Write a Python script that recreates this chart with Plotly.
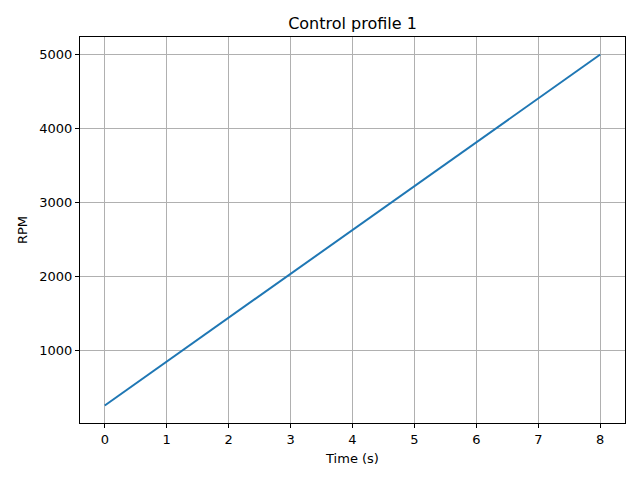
import plotly.graph_objects as go

# control profile: linear ramp of speed over time
time_s = [0, 8]
rpm = [250, 5000]

x_ticks = [0, 1, 2, 3, 4, 5, 6, 7, 8]
y_ticks = [1000, 2000, 3000, 4000, 5000]

fig = go.Figure()

fig.add_trace(go.Scatter(
    x=time_s, y=rpm,
    mode='lines',
    line=dict(color='#1f77b4', width=2),
    showlegend=False
))

axis_style = dict(
    showline=True, linecolor='black', linewidth=1, mirror=True,
    showgrid=True, gridcolor='#b0b0b0', gridwidth=1,
    zeroline=False,
    ticks='outside', ticklen=4, tickcolor='black', tickwidth=1,
    tickfont=dict(family='DejaVu Sans', size=13, color='black'),
)

# the page puts the figure 8px in from the top-left corner, margins allow for that
fig.update_layout(
    width=640, height=480,
    paper_bgcolor='white', plot_bgcolor='white',
    margin=dict(l=72, r=23, t=29, b=65),
    title=dict(text='Control profile 1', x=(72 + 617) / 2 / 640, xanchor='center',
               y=1 - 15 / 480, yanchor='middle',
               font=dict(family='DejaVu Sans', size=16, color='black')),
    xaxis=dict(range=[-0.4, 8.4], tickvals=x_ticks,
               title=dict(text='Time (s)', standoff=8,
                          font=dict(family='DejaVu Sans', size=13, color='black')),
               **axis_style),
    yaxis=dict(range=[12.5, 5237.5], tickvals=y_ticks,
               title=dict(text='RPM', standoff=8,
                          font=dict(family='DejaVu Sans', size=13, color='black')),
               **axis_style),
)

fig.write_html("out.html")
